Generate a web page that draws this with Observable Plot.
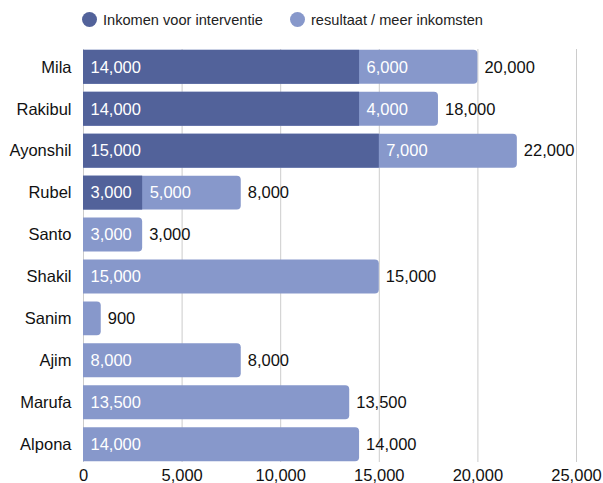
<!DOCTYPE html>
<html><head><meta charset="utf-8">
<script src="https://cdn.jsdelivr.net/npm/d3@7"></script>
<script src="https://cdn.jsdelivr.net/npm/@observablehq/plot@0.6"></script>
<style>
body{margin:0;background:#fff;font-family:"Liberation Sans",Arial,sans-serif;}
#wrap{position:relative;width:603px;height:483px;}
.lg{position:absolute;top:12px;height:16px;font-size:14.6px;color:#222;line-height:16px;white-space:nowrap;}
.dot{position:absolute;top:12px;width:15px;height:15px;border-radius:50%;}
#chart{position:absolute;left:0;top:38px;line-height:0;}
#chart svg{display:block;}
</style></head>
<body><div id="wrap">
<div class="dot" style="left:82px;background:#52629a"></div>
<div class="lg" style="left:103px">Inkomen voor interventie</div>
<div class="dot" style="left:290px;background:#8798cb"></div>
<div class="lg" style="left:311px">resultaat / meer inkomsten</div>
<div id="chart"></div>
</div>
<script>
const names = ["Mila","Rakibul","Ayonshil","Rubel","Santo","Shakil","Sanim","Ajim","Marufa","Alpona"];
const before = [14000,14000,15000,3000,0,0,0,0,0,0];
const extra = [6000,4000,7000,5000,3000,15000,900,8000,13500,14000];
const totals = [20000,18000,22000,8000,3000,15000,900,8000,13500,14000];
const xTicks = [0,5000,10000,15000,20000,25000];
const darkColor = "#52629a", lightColor = "#8798cb";

const rows = names.map((n,i)=>({name:n, before:before[i], extra:extra[i], total:totals[i]}));
const fmt = d3.format(",");

const chart = Plot.plot({
  width: 603, height: 445,
  marginLeft: 83, marginRight: 27, marginTop: 11, marginBottom: 21,
  style: {fontFamily: "'Liberation Sans', Arial, sans-serif", fontSize: "16.5px", color: "#111"},
  x: {domain: [0,25000], ticks: xTicks, tickFormat: d => fmt(d), tickSize: 0, tickPadding: 7, label: null},
  y: {domain: names, paddingInner: 0.19, paddingOuter: 0.02, round: false, tickSize: 0, tickPadding: 12, label: null},
  marks: [
    Plot.gridX(xTicks, {stroke: "#ccc", strokeOpacity: 1}),
    Plot.barX(rows, {y: "name", x1: 0, x2: "total", fill: lightColor, rx2: 4}),
    Plot.barX(rows.filter(d=>d.before>0), {y: "name", x1: 0, x2: "before", fill: darkColor}),
    Plot.text(rows.filter(d=>d.before>0), {y: "name", x: 0, text: d=>fmt(d.before), textAnchor: "start", dx: 7, fill: "white", fontSize: 16.5}),
    Plot.text(rows, {y: "name", x: "before", text: d=>fmt(d.extra), textAnchor: "start", dx: 7, fill: "white", fontSize: 16.5, filter: d=>d.extra>=3000}),
    Plot.text(rows, {y: "name", x: "total", text: d=>fmt(d.total), textAnchor: "start", dx: 6.5, fill: "#111", fontSize: 16.5})
  ]
});
document.getElementById("chart").appendChild(chart);
</script>
</body></html>
